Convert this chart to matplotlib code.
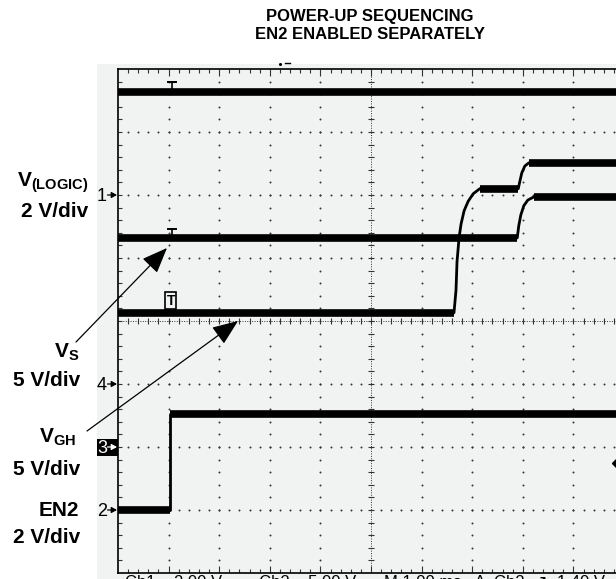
import numpy as np
import matplotlib.pyplot as plt
from matplotlib.collections import LineCollection
from matplotlib.patches import Rectangle
from matplotlib.lines import Line2D

plt.rcParams['font.family'] = ['Liberation Sans', 'DejaVu Sans']
plt.rcParams['mathtext.fontset'] = 'custom'
plt.rcParams['mathtext.rm'] = 'Liberation Sans'
plt.rcParams['mathtext.bf'] = 'Liberation Sans:bold'

W, H = 616, 579

# ---------------------------------------------------------------------------
# traces in divisions (x: 0..10, y: 0..8)
# ---------------------------------------------------------------------------
t_logic = [0.0, 10.0]
v_logic = [7.63, 7.63]

t_vs = [0.0, 7.89, 7.92, 7.96, 8.02, 8.10, 8.22, 10.0]
v_vs = [5.32, 5.32, 5.51, 5.68, 5.83, 5.92, 5.97, 5.97]

t_vgh = [0.0, 6.64, 6.68, 6.70, 6.74, 6.78, 6.84, 6.92, 7.02, 7.15,
         7.91, 7.94, 7.98, 8.04, 8.12, 10.0]
v_vgh = [4.13, 4.13, 4.49, 4.94, 5.32, 5.54, 5.75, 5.90, 6.02, 6.10,
         6.10, 6.21, 6.35, 6.46, 6.51, 6.51]

t_en2 = [0.0, 1.03, 1.03, 10.0]
v_en2 = [1.0, 1.0, 2.52, 2.52]

traces = [(t_logic, v_logic), (t_vs, v_vs), (t_vgh, v_vgh), (t_en2, v_en2)]

# channel ground markers on the left edge
ch_names = ['1', '4', '3', '2']
ch_levels = [6, 3, 2, 1]

trig_t = 1.07
trig_level = (9.86, 1.75)


def fx(px):
    return px / W


def fy(py):
    return 1 - py / H


fig = plt.figure(figsize=(W / 100, H / 100), dpi=100)
fig.add_artist(Rectangle((fx(97), 0), 1, fy(64), transform=fig.transFigure,
                         fc='#f1f2f2', ec='none', zorder=-2))

ax = fig.add_axes([fx(118), fy(573), 506 / W, 504 / H])
ax.set_xlim(0, 10)
ax.set_ylim(0, 8)
ax.set_facecolor('none')
ax.set_xticks([])
ax.set_yticks([])
for s in ax.spines.values():
    s.set_linewidth(1.2)

# ---- graticule --------------------------------------------------------------
px_x = 10 / 506   # one pixel in x divisions
px_y = 8 / 504
fine_x = np.arange(1, 50) * 0.2
fine_y = np.arange(1, 40) * 0.2

dx, dy = [], []
for k in range(1, 10):
    if k == 5:
        continue
    dx += [k] * len(fine_y)
    dy += list(fine_y)
for j in range(1, 8):
    if j == 4:
        continue
    dx += list(fine_x)
    dy += [j] * len(fine_x)
ax.scatter(dx, dy, s=2, c='#333333', lw=0, zorder=1)

segs = []
for x in fine_x:
    L = 7 if abs(x - round(x)) < 1e-6 else 4
    segs.append([(x, 0), (x, L * px_y)])
    segs.append([(x, 8), (x, 8 - L * px_y)])
    segs.append([(x, 4 - 3 * px_y), (x, 4 + 3 * px_y)])
for y in fine_y:
    segs.append([(0, y), (4 * px_x, y)])
    segs.append([(5 - 3 * px_x, y), (5 + 3 * px_x, y)])
ax.add_collection(LineCollection(segs, colors='#333333', lw=0.8, zorder=1))
ax.plot([0, 10], [4, 4], color='#333333', lw=0.7, ls=(0, (1, 1.5)), zorder=1)
ax.plot([5, 5], [0, 8], color='#333333', lw=0.7, ls=(0, (1, 1.5)), zorder=1)

# ---- traces -----------------------------------------------------------------
for t, v in traces:
    ax.plot(t, v, color='black', lw=2.0, zorder=3)
    for i in range(len(t) - 1):
        if v[i] == v[i + 1]:
            ax.plot([t[i], t[i + 1]], [v[i], v[i]], color='black', lw=5.5,
                    solid_capstyle='butt', zorder=3)

# trigger marks on the traces
for lvl, top in [(v_logic[0], 7.79), (v_vs[0], 5.46)]:
    ax.plot([trig_t, trig_t], [lvl, top], color='black', lw=1.2, zorder=4)
    ax.plot([trig_t - 4 * px_x, trig_t + 4 * px_x], [top, top], color='black',
            lw=1.4, zorder=4)
ax.text(1.04, v_vgh[0] + 0.08, 'T', fontsize=10, fontweight='bold',
        ha='center', va='bottom', zorder=5,
        bbox=dict(boxstyle='square,pad=0.1', fc='#f1f2f2', ec='black', lw=1.2))
ax.plot(*trig_level, marker='D', ms=5, color='black', zorder=4)

fig.add_artist(Line2D([fx(285), fx(290)], [fy(63), fy(63)], color='black',
                      lw=1, transform=fig.transFigure))
fig.add_artist(Line2D([fx(280)], [fy(64)], marker='o', ms=1.2, color='black',
                      transform=fig.transFigure))

# ---- channel markers --------------------------------------------------------
small_arrow = dict(arrowstyle='-|>,head_length=0.4,head_width=0.22',
                   lw=0.9, shrinkA=0, shrinkB=0, mutation_scale=8)
for name, lvl in zip(ch_names, ch_levels):
    py = 573 - lvl * 63
    col = 'black'
    if name == '3':
        fig.add_artist(Rectangle((fx(97), fy(py + 9)), 21 / W, 17 / H,
                                 transform=fig.transFigure, fc='black',
                                 ec='none', zorder=-1))
        col = 'white'
    fig.text(fx(107), fy(py + 6), name, ha='right', va='baseline',
             fontsize=13, color=col)
    ax.annotate('', xy=(117, H - py), xytext=(107.5, H - py),
                xycoords='figure pixels', textcoords='figure pixels',
                arrowprops=dict(small_arrow, color=col), annotation_clip=False)

# ---- title and side labels ---------------------------------------------------
fig.text(fx(370), fy(21), 'POWER-UP SEQUENCING', ha='center', va='baseline',
         fontsize=12, fontweight='bold')
fig.text(fx(370), fy(39), 'EN2 ENABLED SEPARATELY', ha='center',
         va='baseline', fontsize=12, fontweight='bold')

labels = [
    (88, 187, r'$\mathbf{V_{(LOGIC)}}$'),
    (88, 217, '2 V/div'),
    (79, 358, r'$\mathbf{V_{S}}$'),
    (80, 386, '5 V/div'),
    (76, 443, r'$\mathbf{V_{GH}}$'),
    (80, 475, '5 V/div'),
    (79, 516, 'EN2'),
    (80, 543, '2 V/div'),
]
for px, py, s in labels:
    fig.text(fx(px), fy(py), s, ha='right', va='baseline', fontsize=15,
             fontweight='bold')

arrow = dict(arrowstyle='-|>,head_length=0.8,head_width=0.32', color='black',
             lw=0.9, shrinkA=0, shrinkB=0, mutation_scale=20)
ax.annotate('', xy=(167, H - 248), xytext=(76, H - 342),
            xycoords='figure pixels', textcoords='figure pixels',
            arrowprops=arrow)
ax.annotate('', xy=(238, H - 321), xytext=(87, H - 431),
            xycoords='figure pixels', textcoords='figure pixels',
            arrowprops=arrow)

# readout line, mostly cut off by the bottom edge (as on the screenshot)
fig.text(fx(125), fy(575),
         'Ch1    2.00 V        Ch2    5.00 V      M 1.00 ms   A  Ch2  \u2197  1.40 V',
         ha='left', va='top', fontsize=12)

fig.savefig('out.png', dpi=100)
